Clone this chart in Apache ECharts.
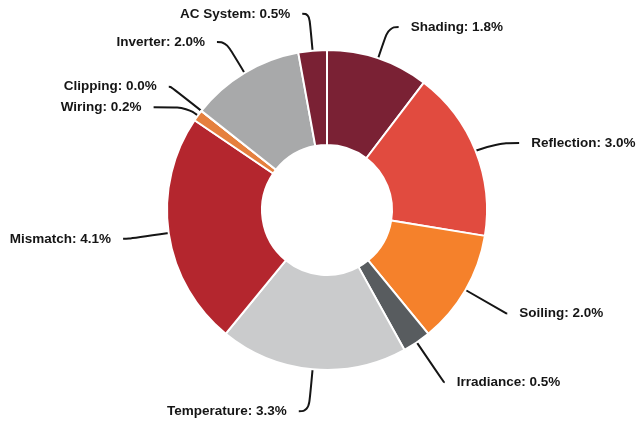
<!DOCTYPE html>
<html>
<head>
<meta charset="utf-8">
<script src="https://cdn.jsdelivr.net/npm/echarts@6/dist/echarts.min.js"></script>
<style>
  html, body { margin: 0; padding: 0; background: #fff; }
  #chart { width: 637px; height: 421px; }
</style>
</head>
<body>
<div id="chart"></div>
<script>
// loss categories, clockwise from 12 o'clock
const categories = ['Shading', 'Reflection', 'Soiling', 'Irradiance', 'Temperature',
  'Mismatch', 'Wiring', 'Clipping', 'Inverter', 'AC System'];
const values = [1.8, 3.0, 2.0, 0.5, 3.3, 4.1, 0.2, 0.0, 2.0, 0.5];

// styling only
const palette = ['#7a2134', '#e14b3f', '#f5812b', '#585c5f', '#cacbcc',
  '#b4262e', '#e5803e', '#e5803e', '#a8a9aa', '#7a2134'];
// leader line [length, length2] per slice
const leaders = [[33, 10], [21, 24], [47, 1], [48, 1], [42, 10],
  [40, 6], [14, 33], [39, 2], [36, 9], [37, 7]];

const chart = echarts.init(document.getElementById('chart'));
chart.setOption({
  animation: false,
  color: palette,
  series: [{
    type: 'pie',
    center: [327, 210],
    radius: [65, 160],
    startAngle: 90,
    clockwise: true,
    avoidLabelOverlap: false,
    itemStyle: {
      borderColor: '#fff',
      borderWidth: 2
    },
    label: {
      show: true,
      position: 'outside',
      color: '#151515',
      fontFamily: 'Liberation Sans, Arial, sans-serif',
      fontWeight: 'bold',
      fontSize: 13.5,
      distanceToLabelLine: 12,
      formatter: p => p.name + ': ' + p.value.toFixed(1) + '%'
    },
    labelLine: {
      show: true,
      smooth: 0.5,
      lineStyle: { color: '#151515', width: 2 }
    },
    data: categories.map((name, i) => ({
      name,
      value: values[i],
      labelLine: { length: leaders[i][0], length2: leaders[i][1] }
    }))
  }]
});
</script>
</body>
</html>
